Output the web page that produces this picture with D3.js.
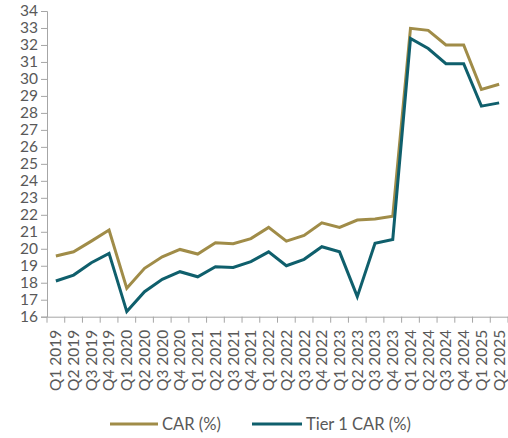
<!DOCTYPE html>
<html><head><meta charset="utf-8">
<script src="https://cdn.jsdelivr.net/npm/d3@7/dist/d3.min.js"></script>
<style>body{margin:0;background:#fff}svg{display:block}</style>
</head><body><svg id="c" width="508" height="438"></svg>
<script>
const categories = ["Q1 2019","Q2 2019","Q3 2019","Q4 2019","Q1 2020","Q2 2020","Q3 2020","Q4 2020","Q1 2021","Q2 2021","Q3 2021","Q4 2021","Q1 2022","Q2 2022","Q3 2022","Q4 2022","Q1 2023","Q2 2023","Q3 2023","Q4 2023","Q1 2024","Q2 2024","Q3 2024","Q4 2024","Q1 2025","Q2 2025"];
const car = [19.57,19.82,20.45,21.1,17.67,18.85,19.53,19.96,19.69,20.35,20.3,20.6,21.26,20.45,20.79,21.53,21.26,21.69,21.75,21.92,32.98,32.86,32.0,32.0,29.38,29.69];
const tier1 = [18.1,18.45,19.18,19.73,16.3,17.47,18.2,18.65,18.35,18.94,18.9,19.24,19.82,19.0,19.38,20.12,19.82,17.18,20.32,20.55,32.38,31.79,30.9,30.9,28.4,28.59];
const yTicks = d3.range(16, 35, 1);
const seriesNames = ["CAR (%)", "Tier 1 CAR (%)"];
const colors = ["#a08c48", "#0f5f6c"];

(function(){
const svg = d3.select("#c");
const font = "Lato, 'Liberation Sans', sans-serif";
const mL = 47, mR = 508, mT = 11, mB = 316.7;
const x = d3.scaleBand().domain(categories).range([mL, mR]);
const y = d3.scaleLinear().domain([16, 34]).range([mB, mT]);

const ya = svg.append("g").attr("transform", `translate(${mL},0)`)
  .call(d3.axisLeft(y).tickValues(yTicks).tickSize(6).tickPadding(3).tickFormat(d3.format("d")));
ya.select(".domain").attr("stroke", "#a6a6a6");
ya.selectAll(".tick line").attr("stroke", "#a6a6a6");
ya.selectAll("text").attr("fill", "#595959").style("font-family", font).style("font-size", "15.5px");

const xa = svg.append("g").attr("transform", `translate(0,${mB})`)
  .call(d3.axisBottom(x).tickSize(0).tickSizeOuter(0));
xa.select(".domain").attr("stroke", "#a6a6a6");
xa.selectAll(".tick text").attr("fill", "#595959").style("font-family", font).style("font-size", "15.5px")
  .attr("transform", "rotate(-90)").attr("text-anchor", "end").attr("x", -13).attr("y", 0).attr("dy", "0.35em");
const bounds = categories.map(c => x(c)).concat([x(categories[categories.length-1]) + x.bandwidth()]);
svg.append("g").selectAll("line").data(bounds).join("line")
  .attr("x1", d => d).attr("x2", d => d).attr("y1", mB).attr("y2", mB + 6)
  .attr("stroke", "#a6a6a6");

const line = d3.line().x((d, i) => x(categories[i]) + x.bandwidth()/2).y(d => y(d));
[car, tier1].forEach((s, k) => {
  svg.append("path").datum(s).attr("d", line).attr("fill", "none")
    .attr("stroke", colors[k]).attr("stroke-width", 3).attr("stroke-linejoin", "miter");
});

const lg = svg.append("g").style("font-family", font).style("font-size", "16.5px");
const legX = [110, 252], legW = [48, 50];
seriesNames.forEach((n, k) => {
  lg.append("line").attr("x1", legX[k]).attr("x2", legX[k] + legW[k]).attr("y1", 424).attr("y2", 424)
    .attr("stroke", colors[k]).attr("stroke-width", 3);
  lg.append("text").attr("x", legX[k] + legW[k] + 4).attr("y", 424).attr("dy", "0.35em")
    .attr("fill", "#595959").text(n);
});
})();
</script></body></html>
